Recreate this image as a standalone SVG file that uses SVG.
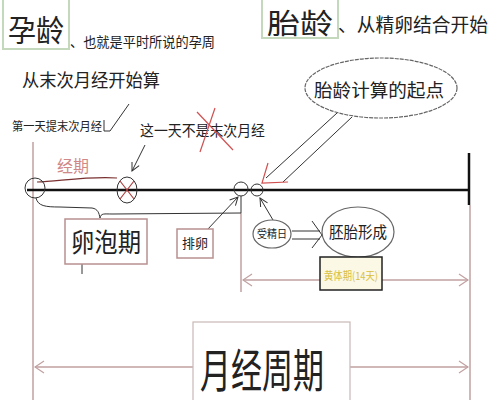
<svg xmlns="http://www.w3.org/2000/svg" width="500" height="400" viewBox="0 0 500 400">
<defs>
<style>
text{font-family:"Noto Sans CJK SC","Noto Sans",sans-serif;fill:#222}
.gbox{fill:#fff;stroke:#c4d9bc;stroke-width:2}
.rbox{fill:#fff;stroke:#b89090;stroke-width:1.5}
.ell{fill:#fff;stroke:#666;stroke-width:1.2}
.main{stroke:#111;stroke-width:2.5;fill:none}
.thin{stroke:#333;stroke-width:1;fill:none}
.brown{stroke:#c0a0a0;stroke-width:1.5;fill:none}
.red{stroke:#d05050;stroke-width:1.2;fill:none}
</style>
<marker id="ah" markerWidth="10" markerHeight="10" refX="9" refY="5" orient="auto-start-reverse" markerUnits="userSpaceOnUse">
<path d="M1,1 L9,5 L1,9" fill="none" stroke="#333" stroke-width="1"/>
</marker>
<marker id="ab" markerWidth="12" markerHeight="14" refX="11" refY="7" orient="auto-start-reverse" markerUnits="userSpaceOnUse">
<path d="M2,1 L11,7 L2,13" fill="none" stroke="#c0a0a0" stroke-width="1.2"/>
</marker>
</defs>

<g id="connectors">
<line class="brown" x1="33" y1="142" x2="33" y2="400"/>
<line class="main" x1="469" y1="153" x2="469" y2="205"/>
<line class="brown" x1="470" y1="205" x2="470" y2="400"/>
<line class="brown" x1="241" y1="213" x2="241" y2="292"/>
<line class="main" x1="27" y1="190" x2="469" y2="190"/>
<line class="brown" x1="243" y1="280" x2="468" y2="280" marker-start="url(#ab)" marker-end="url(#ab)"/>
<line class="brown" x1="35" y1="367" x2="468" y2="367" marker-start="url(#ab)" marker-end="url(#ab)"/>
<path d="M37,182 C60,181 90,176 117,178" stroke="#7a3030" stroke-width="1.2" fill="none"/>
<path d="M36,198 C38,206 45,207 60,207 L92,208 C98,209 99,213 100,218 C101,213 104,214 112,214 L241,213 L241,196" class="thin"/>
<line class="thin" x1="82" y1="263" x2="82" y2="274"/>
<path d="M104,120 L104,131 L110,131 L129,104" class="thin"/>
<line class="thin" x1="145" y1="145" x2="132" y2="171" marker-end="url(#ah)"/>
<line class="thin" x1="207" y1="230" x2="238" y2="197" marker-end="url(#ah)"/>
<line class="thin" x1="273" y1="220" x2="260" y2="198" marker-end="url(#ah)"/>
<line class="thin" x1="292" y1="231" x2="320" y2="231"/>
<line class="thin" x1="292" y1="239" x2="320" y2="239"/>
<path d="M312,221 L322,235 L312,248" class="thin"/>
<line class="thin" x1="337" y1="113" x2="266" y2="178" stroke="#888"/>
<line class="thin" x1="352" y1="117" x2="283" y2="182" stroke="#888"/>
<path d="M268,163 L262,183 L288,182" class="red"/>
</g>

<g id="node-yunling">
<rect class="gbox" x="3" y="-2" width="66" height="51"/>
<text x="36" y="41" font-size="30" text-anchor="middle" textLength="56" lengthAdjust="spacingAndGlyphs">孕龄</text>
</g>
<g id="label-yunzhou">
<text x="70" y="47" font-size="14" textLength="145" lengthAdjust="spacingAndGlyphs">、也就是平时所说的孕周</text>
</g>
<g id="label-count">
<text x="22" y="87" font-size="18" textLength="138" lengthAdjust="spacingAndGlyphs">从末次月经开始算</text>
</g>
<g id="label-firstday">
<text x="12" y="131" font-size="12" textLength="90" lengthAdjust="spacingAndGlyphs">第一天提末次月经</text>
</g>
<g id="label-notday">
<text x="140" y="136" font-size="15" textLength="125" lengthAdjust="spacingAndGlyphs">这一天不是末次月经</text>
<line class="red" x1="197" y1="112" x2="233" y2="150"/>
<line class="red" x1="215" y1="108" x2="200" y2="152"/>
</g>

<g id="node-tailing">
<rect class="gbox" x="262" y="-2" width="76" height="40"/>
<text x="300" y="34" font-size="28" text-anchor="middle" textLength="66" lengthAdjust="spacingAndGlyphs">胎龄</text>
</g>
<g id="label-tailing">
<text x="338" y="32" font-size="19" textLength="150" lengthAdjust="spacingAndGlyphs">、从精卵结合开始</text>
</g>

<g id="node-start">
<ellipse class="ell" cx="381" cy="88" rx="76" ry="30" stroke-dasharray="4 1"/>
<text x="379" y="97" font-size="18" text-anchor="middle" textLength="130" lengthAdjust="spacingAndGlyphs">胎龄计算的起点</text>
</g>

<g id="node-c1">
<circle cx="35" cy="188" r="10" fill="none" stroke="#333" stroke-width="1"/>
</g>
<g id="node-c2">
<ellipse cx="127" cy="190" rx="10" ry="13" fill="none" stroke="#333" stroke-width="1"/>
<path d="M120,181 L134,199 M134,181 L120,199" stroke="#b04040" stroke-width="1.2"/>
</g>
<g id="node-c3">
<circle cx="241" cy="189" r="7" fill="none" stroke="#333" stroke-width="1"/>
</g>
<g id="node-c4">
<circle cx="257" cy="190" r="6" fill="none" stroke="#333" stroke-width="1"/>
</g>

<g id="label-jingqi">
<text x="57" y="172" font-size="16" style="fill:#d08888" textLength="32" lengthAdjust="spacingAndGlyphs">经期</text>
</g>

<g id="node-luanpao">
<rect class="rbox" x="65" y="219" width="82" height="45"/>
<text x="106" y="252" font-size="26" text-anchor="middle" textLength="70" lengthAdjust="spacingAndGlyphs">卵泡期</text>
</g>

<g id="node-pailuan">
<rect class="rbox" x="177" y="229" width="36" height="29"/>
<text x="195" y="248" font-size="13" text-anchor="middle">排卵</text>
</g>

<g id="node-shoujing">
<ellipse class="ell" cx="272" cy="234" rx="19" ry="14"/>
<text x="272" y="238" font-size="11" text-anchor="middle" textLength="30" lengthAdjust="spacingAndGlyphs">受精日</text>
</g>

<g id="node-peitai">
<ellipse class="ell" cx="358" cy="232" rx="36" ry="25"/>
<text x="358" y="238" font-size="16" text-anchor="middle" textLength="58" lengthAdjust="spacingAndGlyphs">胚胎形成</text>
</g>

<g id="node-huangti">
<rect x="320" y="257" width="62" height="33" fill="#fbf8e6" stroke="#222" stroke-width="1.5"/>
<text x="351" y="280" font-size="11" text-anchor="middle" style="fill:#d8c040" textLength="54" lengthAdjust="spacingAndGlyphs">黄体期(14天)</text>
</g>

<g id="node-zhouqi">
<rect x="193" y="322" width="157" height="82" fill="#fff" stroke="#c8b8b8" stroke-width="1.2"/>
<text x="262" y="387" font-size="46" text-anchor="middle" textLength="124" lengthAdjust="spacingAndGlyphs">月经周期</text>
</g>
</svg>
